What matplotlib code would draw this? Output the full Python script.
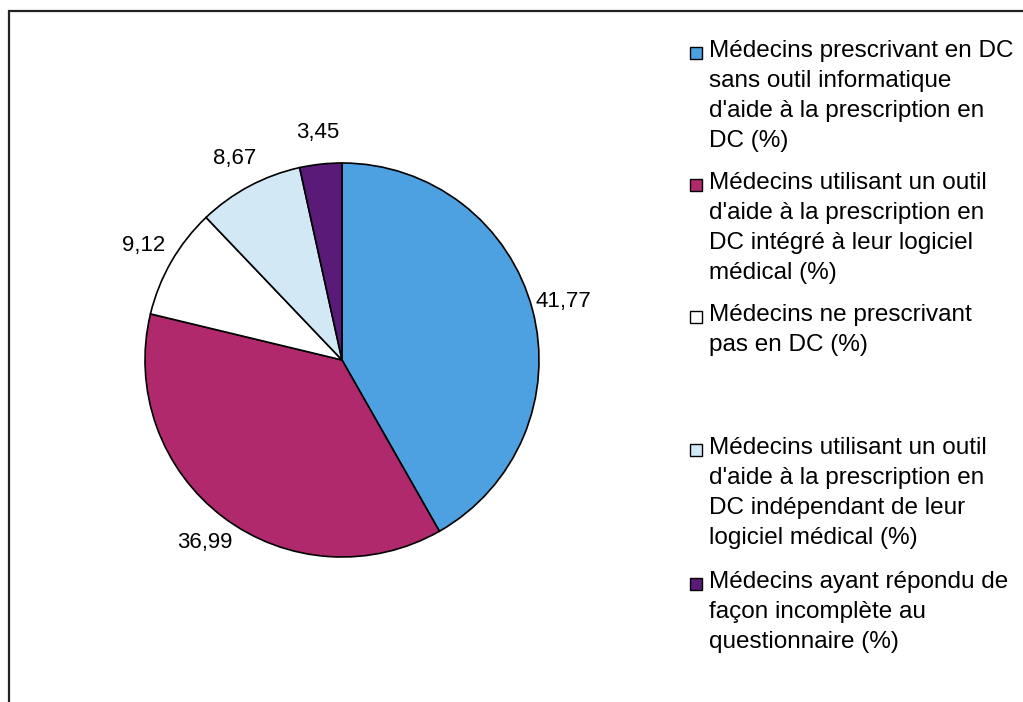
import matplotlib
matplotlib.use('Agg')
import matplotlib.pyplot as plt
from matplotlib.patches import Rectangle
import numpy as np

plt.rcParams['font.family'] = ['Liberation Sans', 'DejaVu Sans']

values = [41.77, 36.99, 9.12, 8.67, 3.45]
value_labels = ['41,77', '36,99', '9,12', '8,67', '3,45']
colors = ['#4ea1e1', '#b0296d', '#ffffff', '#d2e9f5', '#5a1a78']
legend_labels = [
    "Médecins prescrivant en DC\nsans outil informatique\nd'aide à la prescription en\nDC (%)",
    "Médecins utilisant un outil\nd'aide à la prescription en\nDC intégré à leur logiciel\nmédical (%)",
    "Médecins ne prescrivant\npas en DC (%)",
    "Médecins utilisant un outil\nd'aide à la prescription en\nDC indépendant de leur\nlogiciel médical (%)",
    "Médecins ayant répondu de\nfaçon incomplète au\nquestionnaire (%)",
]

W, H = 1023, 702
fig = plt.figure(figsize=(W/100, H/100), dpi=100)
ax = fig.add_axes([0, 0, 1, 1])

cx, cy, r = 342, H - 360, 197
wedges, _ = ax.pie(values, colors=colors, startangle=90, counterclock=False,
                   center=(cx, cy), radius=r,
                   wedgeprops=dict(edgecolor='black', linewidth=1.2))

# value labels outside the pie
for w, lab in zip(wedges, value_labels):
    ang = np.deg2rad((w.theta1 + w.theta2) / 2)
    ax.text(cx + 1.16*r*np.cos(ang), cy + 1.16*r*np.sin(ang), lab,
            ha='center', va='center', fontsize=16)

# legend drawn by hand
legend_y = [53, 185, 317, 450, 584]
for lab, col, y in zip(legend_labels, colors, legend_y):
    ax.add_patch(Rectangle((690, H - y - 6), 12, 12, facecolor=col,
                           edgecolor='black', linewidth=1.0))
    ax.text(709, H - y + 13, lab, ha='left', va='top', fontsize=17.5,
            linespacing=1.47)

# outer frame (right and bottom edges cropped off in the original)
ax.add_patch(Rectangle((9, -10), W + 20, H - 11 + 10, facecolor='none',
                       edgecolor='#222222', linewidth=1.6))

ax.set_xlim(0, W)
ax.set_ylim(0, H)
ax.set_aspect('equal')
ax.axis('off')

fig.savefig('out.png', dpi=100)
